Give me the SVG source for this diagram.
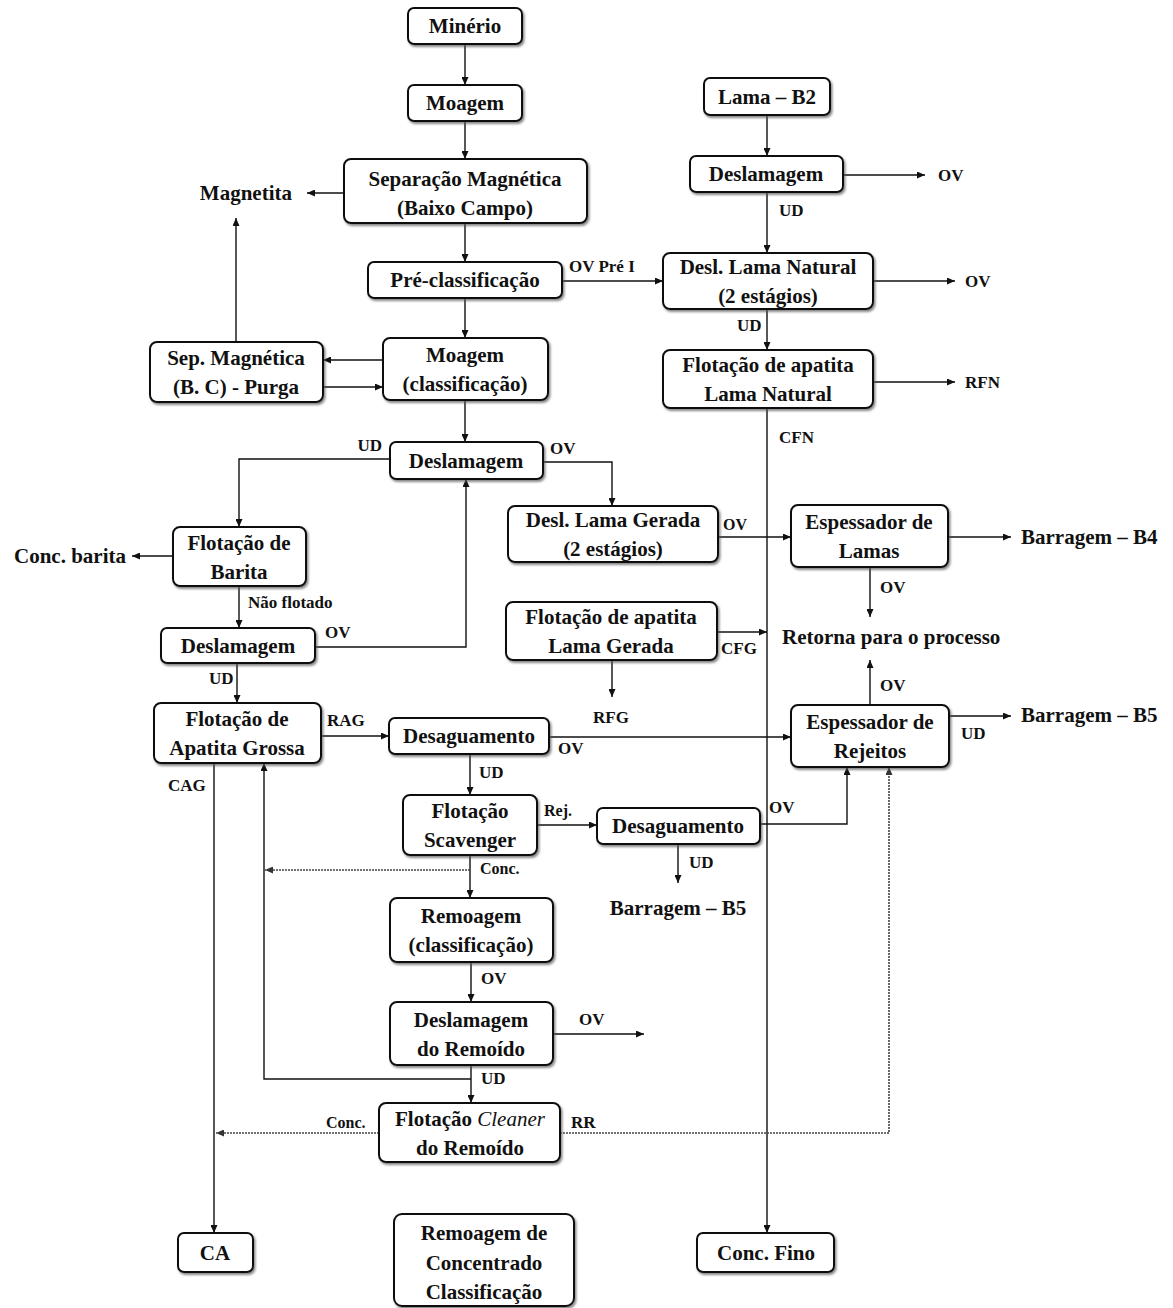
<svg xmlns="http://www.w3.org/2000/svg" width="1173" height="1308" viewBox="0 0 1173 1308">
<defs>
<marker id="ah" viewBox="0 0 8 7" refX="8" refY="3.5" markerWidth="8" markerHeight="7" markerUnits="userSpaceOnUse" orient="auto">
<path d="M0,0 L8,3.5 L0,7 z" fill="#111"/>
</marker>
<marker id="ahg" viewBox="0 0 8 7" refX="8" refY="3.5" markerWidth="8" markerHeight="7" markerUnits="userSpaceOnUse" orient="auto">
<path d="M0,0 L8,3.5 L0,7 z" fill="#333"/>
</marker>
<filter id="sh" x="-10%" y="-10%" width="120%" height="130%">
<feDropShadow dx="1.5" dy="2" stdDeviation="1" flood-color="#555" flood-opacity="0.7"/>
</filter>
</defs>
<style>
.box{fill:#fff;stroke:#111;stroke-width:2;filter:url(#sh)}
text{font-family:"Liberation Serif","Times New Roman",serif;font-weight:bold;fill:#111}
.t{font-size:21px;text-anchor:middle}
.f{font-size:21px}
.l{font-size:17px}
.s{font-size:16px}
.c{fill:none;stroke:#111;stroke-width:1.4;marker-end:url(#ah)}
.n{fill:none;stroke:#111;stroke-width:1.4}
.d{fill:none;stroke:#444;stroke-width:1.6;stroke-dasharray:2 1;marker-end:url(#ahg)}
.dn{fill:none;stroke:#444;stroke-width:1.6;stroke-dasharray:2 1}
</style>
<rect width="1173" height="1308" fill="#fff"/>

<g id="connectors">
<path class="c" d="M465,44 V85"/>
<path class="c" d="M465,121 V159"/>
<path class="c" d="M465,223 V262"/>
<path class="c" d="M465,298 V338"/>
<path class="c" d="M465,400 V442"/>
<path class="c" d="M344,193 H307"/>
<path class="c" d="M236,342 V218"/>
<path class="c" d="M383,360 H323"/>
<path class="c" d="M323,387 H383"/>
<path class="c" d="M767,115 V156"/>
<path class="c" d="M843,175 H925"/>
<path class="c" d="M767,192 V253"/>
<path class="c" d="M562,281 H663"/>
<path class="c" d="M873,281 H955"/>
<path class="c" d="M767,309 V350"/>
<path class="c" d="M873,382 H955"/>
<path class="c" d="M767,408 V1233"/>
<path class="c" d="M390,459 H239 V527"/>
<path class="c" d="M543,462 H612 V506"/>
<path class="c" d="M173,556 H132"/>
<path class="c" d="M239,586 V628"/>
<path class="c" d="M315,647 H466 V479"/>
<path class="c" d="M237,663 V703"/>
<path class="c" d="M321,736 H389"/>
<path class="c" d="M549,737 H791"/>
<path class="c" d="M718,537 H791"/>
<path class="c" d="M948,537 H1011"/>
<path class="c" d="M870,567 V617"/>
<path class="c" d="M717,632 H767"/>
<path class="c" d="M612,660 V697"/>
<path class="c" d="M870,705 V660"/>
<path class="c" d="M949,716 H1011"/>
<path class="c" d="M470,754 V795"/>
<path class="c" d="M537,825 H597"/>
<path class="c" d="M760,824 H847 V767"/>
<path class="c" d="M678,844 V883"/>
<path class="c" d="M214,763 V1233"/>
<path class="c" d="M470,855 V898"/>
<path class="c" d="M471,962 V1002"/>
<path class="c" d="M553,1034 H644"/>
<path class="c" d="M471,1065 V1103"/>
<path class="c" d="M471,1079 H264 V763"/>
<path class="d" d="M470,870 H265"/>
<path class="d" d="M379,1133 H216"/>
<path class="d" d="M560,1133 H889 V767"/>
</g>

<g id="minerio"><rect class="box" x="408" y="8" width="114" height="36" rx="6"/><text class="t" x="465" y="33">Minério</text></g>
<g id="moagem1"><rect class="box" x="408" y="85" width="114" height="36" rx="6"/><text class="t" x="465" y="110">Moagem</text></g>
<g id="sep-magnetica"><rect class="box" x="344" y="159" width="243" height="64" rx="7"/><text class="t" x="465" y="186">Separação Magnética</text><text class="t" x="465" y="215">(Baixo Campo)</text></g>
<g id="pre-classificacao"><rect class="box" x="368" y="262" width="194" height="36" rx="6"/><text class="t" x="465" y="287">Pré-classificação</text></g>
<g id="moagem-classificacao"><rect class="box" x="383" y="338" width="165" height="62" rx="7"/><text class="t" x="465" y="362">Moagem</text><text class="t" x="465" y="391">(classificação)</text></g>
<g id="sep-purga"><rect class="box" x="150" y="342" width="173" height="60" rx="7"/><text class="t" x="236" y="365">Sep. Magnética</text><text class="t" x="236" y="394">(B. C) - Purga</text></g>
<g id="lama-b2"><rect class="box" x="704" y="78" width="126" height="37" rx="6"/><text class="t" x="767" y="104">Lama – B2</text></g>
<g id="deslamagem-r"><rect class="box" x="690" y="156" width="153" height="36" rx="6"/><text class="t" x="766" y="181">Deslamagem</text></g>
<g id="desl-lama-natural"><rect class="box" x="663" y="253" width="210" height="56" rx="7"/><text class="t" x="768" y="274">Desl. Lama Natural</text><text class="t" x="768" y="303">(2 estágios)</text></g>
<g id="flot-lama-natural"><rect class="box" x="663" y="350" width="210" height="58" rx="7"/><text class="t" x="768" y="372">Flotação de apatita</text><text class="t" x="768" y="401">Lama Natural</text></g>
<g id="deslamagem-c"><rect class="box" x="390" y="442" width="153" height="37" rx="6"/><text class="t" x="466" y="468">Deslamagem</text></g>
<g id="flot-barita"><rect class="box" x="173" y="527" width="133" height="59" rx="7"/><text class="t" x="239" y="550">Flotação de</text><text class="t" x="239" y="579">Barita</text></g>
<g id="deslamagem-l"><rect class="box" x="161" y="628" width="154" height="35" rx="6"/><text class="t" x="238" y="653">Deslamagem</text></g>
<g id="flot-apatita-grossa"><rect class="box" x="154" y="703" width="167" height="60" rx="7"/><text class="t" x="237" y="726">Flotação de</text><text class="t" x="237" y="755">Apatita Grossa</text></g>
<g id="desaguamento-c"><rect class="box" x="389" y="718" width="160" height="36" rx="6"/><text class="t" x="469" y="743">Desaguamento</text></g>
<g id="desl-lama-gerada"><rect class="box" x="508" y="506" width="210" height="56" rx="7"/><text class="t" x="613" y="527">Desl. Lama Gerada</text><text class="t" x="613" y="556">(2 estágios)</text></g>
<g id="flot-lama-gerada"><rect class="box" x="506" y="602" width="211" height="58" rx="7"/><text class="t" x="611" y="624">Flotação de apatita</text><text class="t" x="611" y="653">Lama Gerada</text></g>
<g id="espessador-lamas"><rect class="box" x="791" y="505" width="157" height="62" rx="7"/><text class="t" x="869" y="529">Espessador de</text><text class="t" x="869" y="558">Lamas</text></g>
<g id="espessador-rejeitos"><rect class="box" x="791" y="705" width="158" height="62" rx="7"/><text class="t" x="870" y="729">Espessador de</text><text class="t" x="870" y="758">Rejeitos</text></g>
<g id="flot-scavenger"><rect class="box" x="403" y="795" width="134" height="60" rx="7"/><text class="t" x="470" y="818">Flotação</text><text class="t" x="470" y="847">Scavenger</text></g>
<g id="desaguamento-r"><rect class="box" x="597" y="808" width="163" height="36" rx="6"/><text class="t" x="678" y="833">Desaguamento</text></g>
<g id="remoagem"><rect class="box" x="390" y="898" width="163" height="64" rx="7"/><text class="t" x="471" y="923">Remoagem</text><text class="t" x="471" y="952">(classificação)</text></g>
<g id="deslamagem-remoido"><rect class="box" x="390" y="1002" width="163" height="63" rx="7"/><text class="t" x="471" y="1027">Deslamagem</text><text class="t" x="471" y="1056">do Remoído</text></g>
<g id="flot-cleaner"><rect class="box" x="379" y="1103" width="181" height="59" rx="7"/><text class="t" x="470" y="1126">Flotação <tspan font-style="italic" font-weight="normal">Cleaner</tspan></text><text class="t" x="470" y="1155">do Remoído</text></g>
<g id="ca"><rect class="box" x="178" y="1233" width="75" height="39" rx="6"/><text class="t" x="215" y="1260">CA</text></g>
<g id="remoagem-concentrado"><rect class="box" x="394" y="1214" width="180" height="92" rx="8"/><text class="t" x="484" y="1240">Remoagem de</text><text class="t" x="484" y="1270">Concentrado</text><text class="t" x="484" y="1299">Classificação</text></g>
<g id="conc-fino"><rect class="box" x="697" y="1233" width="137" height="39" rx="6"/><text class="t" x="766" y="1260">Conc. Fino</text></g>

<g id="outputs">
<text class="f" x="292" y="200" text-anchor="end">Magnetita</text>
<text class="f" x="126" y="563" text-anchor="end">Conc. barita</text>
<text class="f" x="1021" y="544">Barragem – B4</text>
<text class="f" x="1021" y="722">Barragem – B5</text>
<text class="f" x="782" y="644">Retorna para o processo</text>
<text class="f" x="678" y="915" text-anchor="middle">Barragem – B5</text>
<text class="l" x="938" y="181">OV</text>
<text class="l" x="965" y="287">OV</text>
<text class="l" x="965" y="388">RFN</text>
</g>

<g id="labels">
<text class="l" x="569" y="272">OV Pré I</text>
<text class="l" x="779" y="216">UD</text>
<text class="l" x="737" y="331">UD</text>
<text class="l" x="779" y="443">CFN</text>
<text class="l" x="382" y="451" text-anchor="end">UD</text>
<text class="l" x="550" y="454">OV</text>
<text class="l" x="248" y="608">Não flotado</text>
<text class="l" x="325" y="638">OV</text>
<text class="l" x="209" y="684">UD</text>
<text class="l" x="327" y="726">RAG</text>
<text class="l" x="168" y="791">CAG</text>
<text class="s" x="723" y="530">OV</text>
<text class="l" x="721" y="654">CFG</text>
<text class="l" x="593" y="723">RFG</text>
<text class="l" x="880" y="593">OV</text>
<text class="l" x="880" y="691">OV</text>
<text class="l" x="961" y="739">UD</text>
<text class="l" x="558" y="754">OV</text>
<text class="l" x="479" y="778">UD</text>
<text class="s" x="544" y="816">Rej.</text>
<text class="l" x="769" y="813">OV</text>
<text class="l" x="689" y="868">UD</text>
<text class="s" x="480" y="874">Conc.</text>
<text class="l" x="481" y="984">OV</text>
<text class="l" x="579" y="1025">OV</text>
<text class="l" x="481" y="1084">UD</text>
<text class="s" x="326" y="1128">Conc.</text>
<text class="l" x="571" y="1128">RR</text>
</g>
</svg>
